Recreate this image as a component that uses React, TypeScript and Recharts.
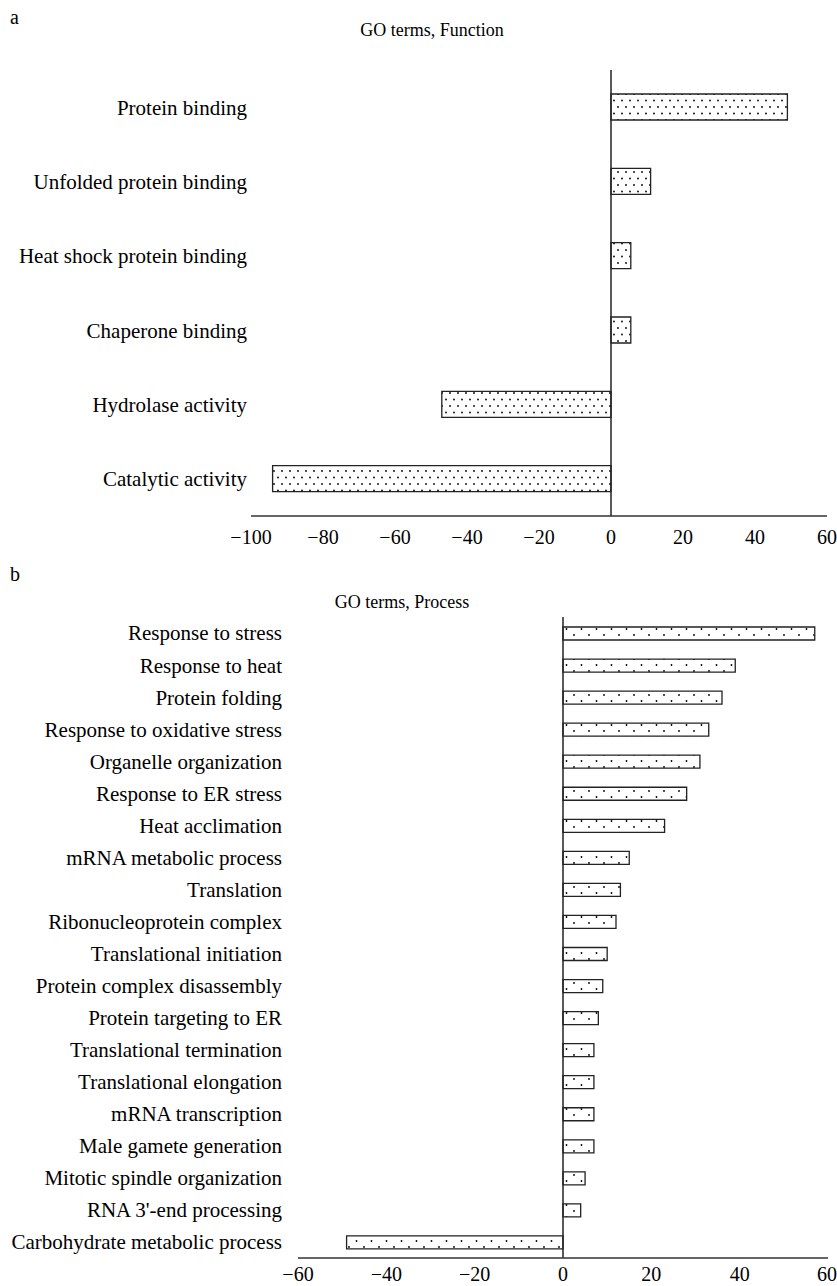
import { BarChart, Bar, XAxis, YAxis, ReferenceLine } from 'recharts'

// panel a: GO terms, Function
const functionTerms = [
    'Protein binding',
    'Unfolded protein binding',
    'Heat shock protein binding',
    'Chaperone binding',
    'Hydrolase activity',
    'Catalytic activity',
]
const functionValues = [49, 11, 5.5, 5.5, -47, -94]
const functionTicks = [-100, -80, -60, -40, -20, 0, 20, 40, 60]

// panel b: GO terms, Process
const processTerms = [
    'Response to stress',
    'Response to heat',
    'Protein folding',
    'Response to oxidative stress',
    'Organelle organization',
    'Response to ER stress',
    'Heat acclimation',
    'mRNA metabolic process',
    'Translation',
    'Ribonucleoprotein complex',
    'Translational initiation',
    'Protein complex disassembly',
    'Protein targeting to ER',
    'Translational termination',
    'Translational elongation',
    'mRNA transcription',
    'Male gamete generation',
    'Mitotic spindle organization',
    "RNA 3'-end processing",
    'Carbohydrate metabolic process',
]
const processValues = [57, 39, 36, 33, 31, 28, 23, 15, 13, 12, 10, 9, 8, 7, 7, 7, 7, 5, 4, -49]
const processTicks = [-60, -40, -20, 0, 20, 40, 60]

const FONT = '"Liberation Serif", "Times New Roman", serif'

const fmt = (v: number) => (v < 0 ? '\u2212' + Math.abs(v) : String(v))

const functionData = functionTerms.map((name, i) => ({ name, value: functionValues[i] }))
const processData = processTerms.map((name, i) => ({ name, value: processValues[i] }))

const tickStyle = { fontSize: 20, fill: '#000', fontFamily: FONT }
const labelStyle = { fontSize: 21, fill: '#000', fontFamily: FONT }

export default function App() {
    return (
        <div style={{ position: 'absolute', left: 0, top: 0, width: 837, height: 1286, background: '#fff', fontFamily: FONT }}>
            <div style={{ position: 'absolute', left: 10, top: 6, fontSize: 20 }}>a</div>
            <div style={{ position: 'absolute', left: 0, width: 864, top: 20, fontSize: 18, textAlign: 'center' }}>GO terms, Function</div>
            <div style={{ position: 'absolute', left: 10, top: 563, fontSize: 20 }}>b</div>
            <div style={{ position: 'absolute', left: 0, width: 804, top: 592, fontSize: 18, textAlign: 'center' }}>GO terms, Process</div>

            <div style={{ position: 'absolute', left: 0, top: 0 }}>
                <BarChart
                    width={837}
                    height={560}
                    layout="vertical"
                    data={functionData}
                    margin={{ top: 70, right: 10, bottom: 14, left: 0 }}
                >
                    <defs>
                        <pattern id="dotsA" width="8" height="13" patternUnits="userSpaceOnUse">
                            <rect width="8" height="13" fill="#fff" />
                            <circle cx="2" cy="3" r="0.9" fill="#000" />
                            <circle cx="6" cy="9.5" r="0.9" fill="#000" />
                        </pattern>
                    </defs>
                    <XAxis
                        type="number"
                        domain={[-100, 60]}
                        ticks={functionTicks}
                        tickFormatter={fmt}
                        tick={tickStyle}
                        tickSize={0}
                        tickMargin={14}
                        height={30}
                        axisLine={{ stroke: '#333', strokeWidth: 1.5 }}
                        tickLine={false}
                    />
                    <YAxis
                        type="category"
                        dataKey="name"
                        width={251}
                        tick={labelStyle}
                        tickSize={0}
                        tickMargin={4}
                        axisLine={false}
                        tickLine={false}
                    />
                    <ReferenceLine x={0} stroke="#222" strokeWidth={1.5} />
                    <Bar dataKey="value" barSize={26} fill="url(#dotsA)" stroke="#222" strokeWidth={1.3} isAnimationActive={false} />
                </BarChart>
            </div>

            <div style={{ position: 'absolute', left: 0, top: 560 }}>
                <BarChart
                    width={837}
                    height={726}
                    layout="vertical"
                    data={processData}
                    margin={{ top: 57, right: 9, bottom: 0, left: 0 }}
                >
                    <defs>
                        <pattern id="dotsB" width="15" height="12" patternUnits="userSpaceOnUse">
                            <rect width="15" height="12" fill="#fff" />
                            <circle cx="4" cy="3" r="0.9" fill="#000" />
                            <circle cx="11.5" cy="9" r="0.9" fill="#000" />
                        </pattern>
                    </defs>
                    <XAxis
                        type="number"
                        domain={[-60, 60]}
                        ticks={processTicks}
                        tickFormatter={fmt}
                        tick={tickStyle}
                        tickSize={0}
                        tickMargin={9}
                        height={28}
                        axisLine={{ stroke: '#333', strokeWidth: 1.5 }}
                        tickLine={false}
                    />
                    <YAxis
                        type="category"
                        dataKey="name"
                        width={298}
                        tick={labelStyle}
                        tickSize={0}
                        tickMargin={16}
                        axisLine={false}
                        tickLine={false}
                        interval={0}
                    />
                    <ReferenceLine x={0} stroke="#222" strokeWidth={1.5} />
                    <Bar dataKey="value" barSize={13} fill="url(#dotsB)" stroke="#222" strokeWidth={1.3} isAnimationActive={false} />
                </BarChart>
            </div>
        </div>
    )
}
